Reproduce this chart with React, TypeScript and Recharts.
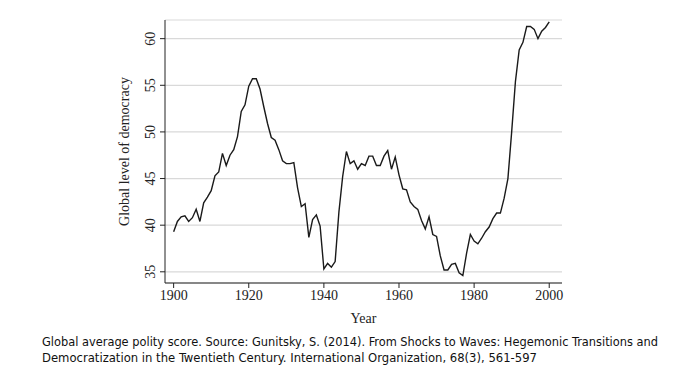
import React from 'react';
import { LineChart, Line, XAxis, YAxis, CartesianGrid } from 'recharts';

// Global average polity score, 1900-2000
const years: number[] = [
    1900, 1901, 1902, 1903, 1904, 1905, 1906, 1907, 1908, 1909,
    1910, 1911, 1912, 1913, 1914, 1915, 1916, 1917, 1918, 1919,
    1920, 1921, 1922, 1923, 1924, 1925, 1926, 1927, 1928, 1929,
    1930, 1931, 1932, 1933, 1934, 1935, 1936, 1937, 1938, 1939,
    1940, 1941, 1942, 1943, 1944, 1945, 1946, 1947, 1948, 1949,
    1950, 1951, 1952, 1953, 1954, 1955, 1956, 1957, 1958, 1959,
    1960, 1961, 1962, 1963, 1964, 1965, 1966, 1967, 1968, 1969,
    1970, 1971, 1972, 1973, 1974, 1975, 1976, 1977, 1978, 1979,
    1980, 1981, 1982, 1983, 1984, 1985, 1986, 1987, 1988, 1989,
    1990, 1991, 1992, 1993, 1994, 1995, 1996, 1997, 1998, 1999,
    2000,
];

const polity: number[] = [
    39.3, 40.4, 40.9, 41.0, 40.4, 40.8, 41.7, 40.4, 42.4, 43.0,
    43.7, 45.3, 45.7, 47.7, 46.4, 47.5, 48.1, 49.5, 52.2, 52.9,
    54.9, 55.7, 55.7, 54.6, 52.7, 50.9, 49.4, 49.1, 48.1, 46.9,
    46.6, 46.6, 46.7, 44.0, 42.0, 42.3, 38.7, 40.6, 41.1, 39.9,
    35.3, 35.9, 35.5, 36.1, 41.4, 45.2, 47.9, 46.6, 46.9, 46.0,
    46.6, 46.4, 47.4, 47.4, 46.4, 46.4, 47.4, 48.0, 46.0, 47.3,
    45.4, 43.9, 43.8, 42.5, 42.0, 41.7, 40.5, 39.6, 40.9, 39.0,
    38.8, 36.7, 35.2, 35.2, 35.8, 35.9, 34.9, 34.6, 37.0, 39.0,
    38.3, 38.0, 38.6, 39.3, 39.8, 40.7, 41.3, 41.3, 42.9, 45.0,
    50.0, 55.4, 58.8, 59.6, 61.3, 61.3, 61.0, 60.0, 60.8, 61.2,
    61.8,
];

const xTicks = [1900, 1920, 1940, 1960, 1980, 2000];
const yTicks = [35, 40, 45, 50, 55, 60];

const captionLines = [
    'Global average polity score. Source: Gunitsky, S. (2014). From Shocks to Waves: Hegemonic Transitions and',
    'Democratization in the Twentieth Century. International Organization, 68(3), 561-597',
];

const data = years.map((year, i) => ({ year, value: polity[i] }));

const SERIF = '"Liberation Serif", "Times New Roman", serif';
const CAPTION_FONT = '"DejaVu Sans Condensed", "Liberation Sans", sans-serif';

const RotatedYTick = ({ x, y, payload }: any) => (
    <text
        x={x - 3}
        y={y}
        transform={`rotate(-90, ${x - 3}, ${y})`}
        textAnchor="middle"
        fontFamily={SERIF}
        fontSize={14}
        fill="#222"
    >
        {payload.value}
    </text>
);

const App: React.FC = () => {
    return (
        <div style={{ position: 'absolute', left: 0, top: 0, width: 692, height: 377, background: '#fff' }}>
            <LineChart
                width={692}
                height={377}
                data={data}
                margin={{ top: 20, right: 130, left: 100, bottom: 54 }}
            >
                <CartesianGrid horizontal vertical={false} stroke="#d9d9d9" strokeWidth={1.2} />
                <XAxis
                    dataKey="year"
                    type="number"
                    domain={[1897.7, 2003.4]}
                    ticks={xTicks}
                    allowDataOverflow
                    height={40}
                    tickSize={5}
                    stroke="#222"
                    tick={{ fill: '#222', fontFamily: SERIF, fontSize: 14 }}
                    label={{ value: 'Year', position: 'insideBottom', offset: 0, fill: '#222', fontFamily: SERIF, fontSize: 14 }}
                />
                <YAxis
                    type="number"
                    domain={[33.8, 62.0]}
                    ticks={yTicks}
                    allowDataOverflow
                    width={65}
                    tickSize={5}
                    stroke="#222"
                    tick={<RotatedYTick />}
                    label={{
                        value: 'Global level of democracy',
                        angle: -90,
                        position: 'insideLeft',
                        offset: 24,
                        style: { textAnchor: 'middle' },
                        fill: '#222',
                        fontFamily: SERIF,
                        fontSize: 14,
                    }}
                />
                <Line
                    type="linear"
                    dataKey="value"
                    stroke="#1a1a1a"
                    strokeWidth={1.4}
                    dot={false}
                    isAnimationActive={false}
                />
            </LineChart>
            <svg width={692} height={377} style={{ position: 'absolute', left: 0, top: 0, pointerEvents: 'none' }}>
                <text x={42} y={345.5} fontFamily={CAPTION_FONT} fontSize={13} fill="#111"
                    textLength={616} lengthAdjust="spacingAndGlyphs">
                    {captionLines[0]}
                </text>
                <text x={42} y={362} fontFamily={CAPTION_FONT} fontSize={13} fill="#111"
                    textLength={495} lengthAdjust="spacingAndGlyphs">
                    {captionLines[1]}
                </text>
            </svg>
        </div>
    );
};

export default App;
